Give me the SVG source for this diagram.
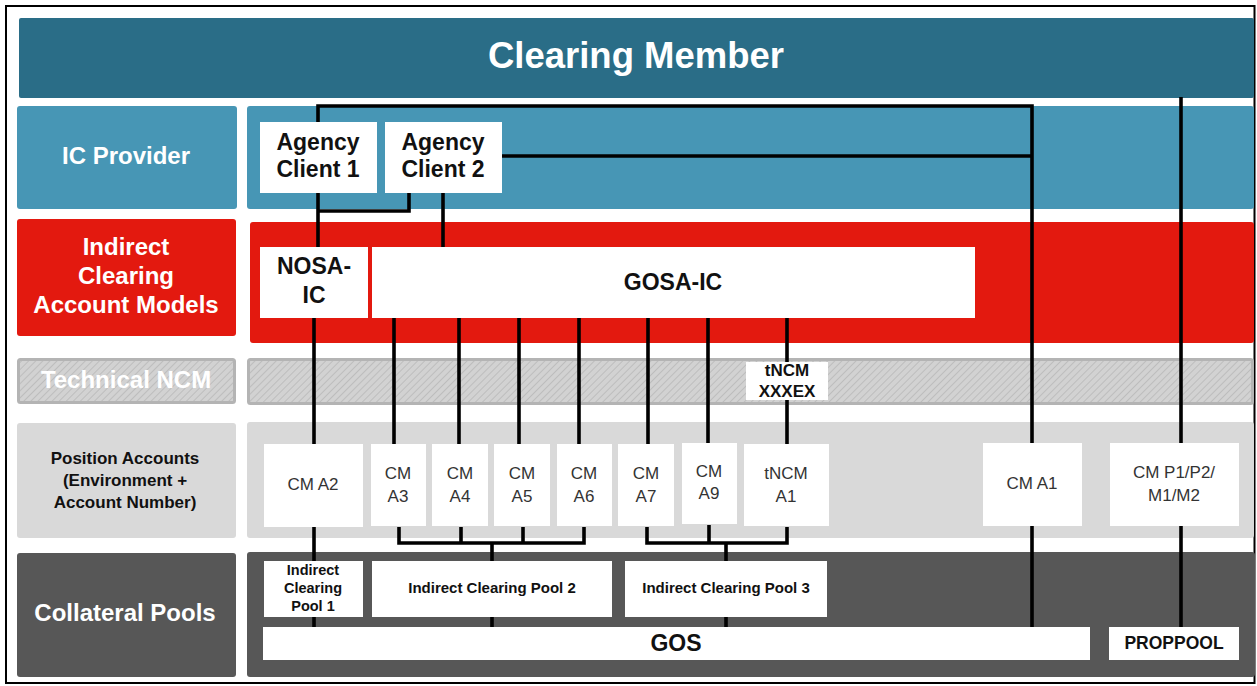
<svg xmlns="http://www.w3.org/2000/svg" width="1257" height="686" viewBox="0 0 1257 686">
  <defs>
    <pattern id="hatch" patternUnits="userSpaceOnUse" width="5" height="5" patternTransform="rotate(45)">
      <rect width="5" height="5" fill="#d2d2d2"/>
      <line x1="0" y1="0" x2="0" y2="5" stroke="#bdbdbd" stroke-width="2"/>
    </pattern>
  </defs>
  <style>
    text { font-family: "Liberation Sans", Arial, sans-serif; text-anchor: middle; }
    .hdr { fill: #ffffff; font-weight: bold; }
    .box { fill: #ffffff; }
    .bold { font-weight: bold; fill: #111111; }
    .acct { fill: #333333; font-size: 17px; }
    .conn { fill: none; stroke: #000000; stroke-width: 3.6; stroke-linejoin: miter; stroke-linecap: butt; }
  </style>

  <rect x="0" y="0" width="1257" height="686" fill="#ffffff"/>
  <rect x="6" y="6" width="1248.5" height="677" fill="none" stroke="#000000" stroke-width="2"/>

  <!-- row bands -->
  <g id="clearing-member">
    <rect x="19" y="18" width="1235" height="80" rx="2" fill="#2a6d87"/>
    <text class="hdr" x="636" y="68" font-size="36.5">Clearing Member</text>
  </g>
  <g id="ic-provider">
    <rect x="17" y="106" width="220" height="103" rx="3" fill="#4796b5"/>
    <rect x="247" y="106" width="1007" height="103" rx="3" fill="#4796b5"/>
    <text class="hdr" x="126" y="164" font-size="24">IC Provider</text>
  </g>
  <g id="account-models">
    <rect x="17" y="219" width="219" height="117" rx="3" fill="#e3190f"/>
    <rect x="250" y="222" width="1004" height="121" rx="3" fill="#e3190f"/>
    <text class="hdr" x="126" y="255" font-size="24">Indirect</text>
    <text class="hdr" x="126" y="284" font-size="24">Clearing</text>
    <text class="hdr" x="126" y="313" font-size="24">Account Models</text>
  </g>
  <g id="technical-ncm">
    <rect x="18.5" y="359.5" width="216" height="43" rx="2" fill="url(#hatch)" stroke="#b4b4b4" stroke-width="3"/>
    <rect x="248.5" y="359.5" width="1004" height="44" rx="2" fill="url(#hatch)" stroke="#b4b4b4" stroke-width="3"/>
    <text class="hdr" x="126" y="388" font-size="24" fill="#f4f4f4">Technical NCM</text>
  </g>
  <g id="position-accounts">
    <rect x="17" y="423" width="219" height="115" rx="3" fill="#d9d9d9"/>
    <rect x="247" y="422" width="1007" height="116" rx="3" fill="#d9d9d9"/>
    <text class="bold" x="125" y="464" font-size="17" fill="#222222">Position Accounts</text>
    <text class="bold" x="125" y="486" font-size="17" fill="#222222">(Environment +</text>
    <text class="bold" x="125" y="508" font-size="17" fill="#222222">Account Number)</text>
  </g>
  <g id="collateral-pools">
    <rect x="17" y="553" width="219" height="124" rx="3" fill="#575757"/>
    <rect x="247" y="552" width="1008" height="125" rx="3" fill="#575757"/>
    <text class="hdr" x="125" y="621" font-size="24">Collateral Pools</text>
  </g>

  <!-- connectors -->
  <g id="connectors">
    <path class="conn" d="M318 247 V106 H1032 V627"/>
    <path class="conn" d="M502 156 H1032"/>
    <path class="conn" d="M409 193 V211 H318"/>
    <path class="conn" d="M443 193 V247"/>
    <path class="conn" d="M1181 97 V627"/>
    <path class="conn" d="M314 318 V561 M314 617 V627"/>
    <path class="conn" d="M394 318 V444 M459 318 V444 M519 318 V444 M579 318 V444"/>
    <path class="conn" d="M648 318 V444 M708 318 V443 M787 318 V362 M787 400 V444"/>
    <path class="conn" d="M399 527 V543 H584 V527 M461 527 V543 M523 527 V543 M492 543 V561"/>
    <path class="conn" d="M647 527 V543 H787 V527 M709 525 V543 M726 543 V561"/>
    <path class="conn" d="M492 617 V627 M726 617 V627"/>
  </g>

  <!-- IC provider clients -->
  <g id="agency-client-1">
    <rect class="box" x="260" y="122" width="117" height="71"/>
    <text class="bold" x="318" y="150" font-size="23">Agency</text>
    <text class="bold" x="318" y="177" font-size="23">Client 1</text>
  </g>
  <g id="agency-client-2">
    <rect class="box" x="385" y="122" width="117" height="71"/>
    <text class="bold" x="443" y="150" font-size="23">Agency</text>
    <text class="bold" x="443" y="177" font-size="23">Client 2</text>
  </g>

  <!-- account models -->
  <g id="nosa-ic">
    <rect class="box" x="260" y="247" width="108" height="71"/>
    <text class="bold" x="314" y="274" font-size="23">NOSA-</text>
    <text class="bold" x="314" y="303" font-size="23">IC</text>
  </g>
  <g id="gosa-ic">
    <rect class="box" x="372" y="247" width="603" height="71"/>
    <text class="bold" x="673" y="290" font-size="23">GOSA-IC</text>
  </g>

  <!-- technical NCM -->
  <g id="tncm-xxxex">
    <rect class="box" x="746" y="362" width="82" height="38"/>
    <text class="bold" x="787" y="376" font-size="17">tNCM</text>
    <text class="bold" x="787" y="397" font-size="17">XXXEX</text>
  </g>

  <!-- position accounts -->
  <g id="cm-a2">
    <rect class="box" x="264" y="444" width="99" height="83"/>
    <text class="acct" x="313" y="490">CM A2</text>
  </g>
  <g id="cm-a3">
    <rect class="box" x="371" y="444" width="55" height="82"/>
    <text class="acct" x="398" y="479">CM</text>
    <text class="acct" x="398" y="502">A3</text>
  </g>
  <g id="cm-a4">
    <rect class="box" x="432" y="444" width="56" height="82"/>
    <text class="acct" x="460" y="479">CM</text>
    <text class="acct" x="460" y="502">A4</text>
  </g>
  <g id="cm-a5">
    <rect class="box" x="494" y="444" width="56" height="82"/>
    <text class="acct" x="522" y="479">CM</text>
    <text class="acct" x="522" y="502">A5</text>
  </g>
  <g id="cm-a6">
    <rect class="box" x="557" y="444" width="55" height="82"/>
    <text class="acct" x="584" y="479">CM</text>
    <text class="acct" x="584" y="502">A6</text>
  </g>
  <g id="cm-a7">
    <rect class="box" x="618" y="444" width="56" height="82"/>
    <text class="acct" x="646" y="479">CM</text>
    <text class="acct" x="646" y="502">A7</text>
  </g>
  <g id="cm-a9">
    <rect class="box" x="682" y="443" width="55" height="81"/>
    <text class="acct" x="709" y="477">CM</text>
    <text class="acct" x="709" y="499">A9</text>
  </g>
  <g id="tncm-a1">
    <rect class="box" x="744" y="444" width="85" height="82"/>
    <text class="acct" x="786" y="479">tNCM</text>
    <text class="acct" x="786" y="502">A1</text>
  </g>
  <g id="cm-a1">
    <rect class="box" x="983" y="443" width="99" height="83"/>
    <text class="acct" x="1032" y="489">CM A1</text>
  </g>
  <g id="cm-p1-p2-m1-m2">
    <rect class="box" x="1110" y="443" width="129" height="83"/>
    <text class="acct" x="1174" y="478">CM P1/P2/</text>
    <text class="acct" x="1174" y="501">M1/M2</text>
  </g>

  <!-- collateral pools -->
  <g id="ic-pool-1">
    <rect class="box" x="264" y="561" width="99" height="56"/>
    <text class="bold" x="313" y="575" font-size="14.5">Indirect</text>
    <text class="bold" x="313" y="593" font-size="14.5">Clearing</text>
    <text class="bold" x="313" y="611" font-size="14.5">Pool 1</text>
  </g>
  <g id="ic-pool-2">
    <rect class="box" x="372" y="561" width="240" height="56"/>
    <text class="bold" x="492" y="593" font-size="15">Indirect Clearing Pool 2</text>
  </g>
  <g id="ic-pool-3">
    <rect class="box" x="625" y="561" width="202" height="56"/>
    <text class="bold" x="726" y="593" font-size="15">Indirect Clearing Pool 3</text>
  </g>
  <g id="gos">
    <rect class="box" x="263" y="627" width="827" height="33"/>
    <text class="bold" x="676" y="651" font-size="23">GOS</text>
  </g>
  <g id="proppool">
    <rect class="box" x="1109" y="627" width="130" height="33"/>
    <text class="bold" x="1174" y="649" font-size="17.5">PROPPOOL</text>
  </g>
</svg>
